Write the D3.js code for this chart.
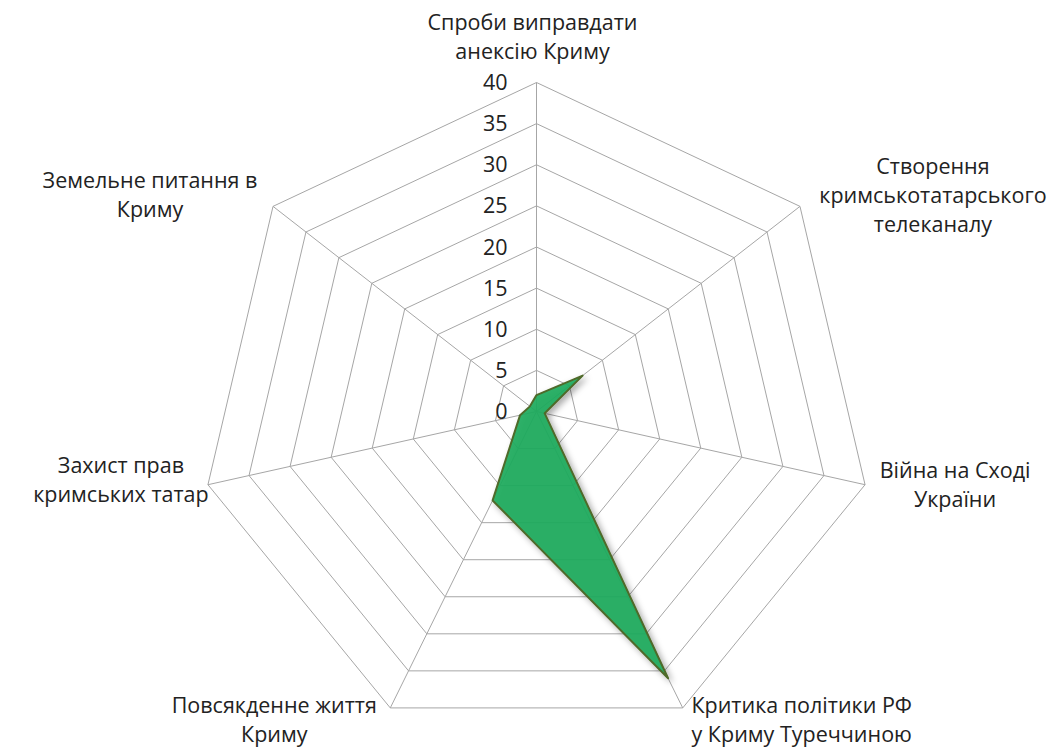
<!DOCTYPE html>
<html>
<head>
<meta charset="utf-8">
<script src="https://cdn.jsdelivr.net/npm/d3@7"></script>
<style>
  body { margin: 0; background: #fff; }
  svg text { font-family: "Open Sans", sans-serif; font-size: 21.5px; fill: #222; }
</style>
</head>
<body>
<svg class="radar" width="1048" height="747"></svg>
<script>
// categories (one line per array entry)
const categories = [
    ['Спроби виправдати', 'анексію Криму'],
    ['Створення', 'кримськотатарського', 'телеканалу'],
    ['Війна на Сході', 'України'],
    ['Критика політики РФ', 'у Криму Туреччиною'],
    ['Повсякденне життя', 'Криму'],
    ['Захист прав', 'кримських татар'],
    ['Земельне питання в', 'Криму']
];
const values = [2, 7, 1, 36, 12, 2, 1];
const ticks = [0, 5, 10, 15, 20, 25, 30, 35, 40];

// label block offsets from the axis end (center x, first baseline y)
const labelOffsets = [[-4, -53], [133, -32], [90, -7], [119, 5], [-116, 5], [-87, -12], [-123, -18]];

const svg = d3.select('svg.radar');
const cx = 536.5, cy = 411.5;
const n = categories.length;

// chart looks slightly wider than tall
const rX = d3.scaleLinear().domain([0, 40]).range([0, 337]);
const rY = d3.scaleLinear().domain([0, 40]).range([0, 329]);
const angle = i => i * 2 * Math.PI / n;
const pt = (i, v) => [cx + Math.sin(angle(i)) * rX(v), cy - Math.cos(angle(i)) * rY(v)];

const defs = svg.append('defs');
const f = defs.append('filter').attr('id', 'shadow')
    .attr('x', '-20%').attr('y', '-20%').attr('width', '140%').attr('height', '140%');
f.append('feDropShadow').attr('dx', 3).attr('dy', 3).attr('stdDeviation', 3)
    .attr('flood-color', '#000').attr('flood-opacity', 0.35);

const g = svg.append('g');

// rings
g.selectAll('.ring').data(ticks.filter(t => t > 0))
    .enter().append('polygon')
    .attr('class', 'ring')
    .attr('points', t => d3.range(n).map(i => pt(i, t).join(',')).join(' '))
    .attr('fill', 'none')
    .attr('stroke', '#a6a6a6')
    .attr('stroke-width', 1);

// spokes
g.selectAll('.spoke').data(d3.range(n))
    .enter().append('line')
    .attr('class', 'spoke')
    .attr('x1', cx).attr('y1', cy)
    .attr('x2', i => pt(i, 40)[0])
    .attr('y2', i => pt(i, 40)[1])
    .attr('stroke', '#a6a6a6')
    .attr('stroke-width', 1);

// data area
g.append('polygon')
    .attr('points', values.map((v, i) => pt(i, v).join(',')).join(' '))
    .attr('fill', '#1dab5d')
    .attr('fill-opacity', 0.92)
    .attr('stroke', '#4f6a2a')
    .attr('stroke-width', 2)
    .attr('stroke-linejoin', 'round')
    .attr('filter', 'url(#shadow)');

// tick labels
g.selectAll('.tick').data(ticks)
    .enter().append('text')
    .attr('class', 'tick')
    .attr('x', cx - 29)
    .attr('y', t => cy - rY(t))
    .attr('dy', '0.35em')
    .attr('text-anchor', 'end')
    .text(t => t);

// category labels
const lab = g.selectAll('.cat').data(categories)
    .enter().append('text')
    .attr('class', 'cat')
    .attr('text-anchor', 'middle')
    .attr('x', (d, i) => pt(i, 40)[0] + labelOffsets[i][0])
    .attr('y', (d, i) => pt(i, 40)[1] + labelOffsets[i][1]);

lab.each(function(d, i) {
    const x = pt(i, 40)[0] + labelOffsets[i][0];
    d3.select(this).selectAll('tspan').data(d)
        .enter().append('tspan')
        .attr('x', x)
        .attr('dy', (s, j) => j === 0 ? 0 : 29)
        .text(s => s);
});
</script>
</body>
</html>
